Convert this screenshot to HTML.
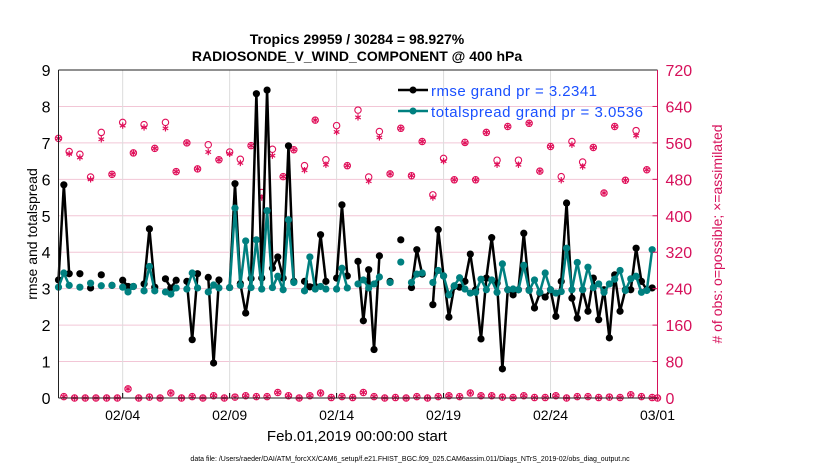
<!DOCTYPE html>
<html><head><meta charset="utf-8"><style>
body{margin:0;background:#fff;}
svg text{font-family:"Liberation Sans",sans-serif;}
</style></head><body>
<svg id="chart" width="830" height="470" xmlns="http://www.w3.org/2000/svg">
<g id="grid"></g>
<g id="marks"></g>
<g id="axes"></g>
<text x="357" y="44" text-anchor="middle" font-size="14" font-weight="bold">Tropics 29959 / 30284 = 98.927%</text>
<text x="357" y="61" text-anchor="middle" font-size="14" font-weight="bold">RADIOSONDE_V_WIND_COMPONENT @ 400 hPa</text>
<text transform="translate(37,234) rotate(-90)" text-anchor="middle" font-size="14">rmse and totalspread</text>
<text transform="translate(722,234) rotate(-90)" text-anchor="middle" font-size="14" fill="#d6105a"># of obs: o=possible; ×=assimilated</text>
<text x="357" y="441" text-anchor="middle" font-size="15">Feb.01,2019 00:00:00 start</text>
<text x="410" y="461" text-anchor="middle" font-size="7">data file: /Users/raeder/DAI/ATM_forcXX/CAM6_setup/f.e21.FHIST_BGC.f09_025.CAM6assim.011/Diags_NTrS_2019-02/obs_diag_output.nc</text>
<g>
<line x1="398" y1="90" x2="428" y2="90" stroke="#000" stroke-width="2.5"/><circle cx="413" cy="90" r="3.5" fill="#000"/>
<text x="431" y="96" font-size="15" fill="#1a50ff" textLength="166">rmse grand pr = 3.2341</text>
<line x1="398" y1="111" x2="428" y2="111" stroke="#008080" stroke-width="2.5"/><circle cx="413" cy="111" r="3.5" fill="#008080"/>
<text x="431" y="117" font-size="15" fill="#1a50ff" textLength="212">totalspread grand pr = 3.0536</text>
</g>
</svg>
<script>
const rmse=[3.24,5.85,3.41,null,3.41,null,3.02,null,3.38,null,3.09,null,3.23,3.06,3.06,null,3.13,4.64,3.04,null,3.27,3.02,3.23,null,3.2,1.6,3.41,null,3.31,0.96,3.24,null,3.03,5.88,3.14,2.33,3.28,8.35,3.29,8.45,3.56,3.87,3.29,6.92,3.2,null,3.2,3.05,3.06,4.48,3.2,null,3.29,5.3,3.35,null,3.75,2.12,3.52,1.33,3.9,null,3.2,null,4.34,null,3.03,4.07,3.4,null,2.56,4.62,3.35,2.22,3.06,3.04,3.2,3.95,2.97,1.62,3.29,4.4,3.15,0.8,2.97,2.83,2.97,4.52,2.97,2.47,2.88,2.77,2.97,2.24,3.2,5.35,2.74,2.19,2.97,2.38,3.29,2.15,2.97,1.65,3.38,2.38,2.97,2.97,4.11,3.2,2.97,3.02,null];
const spread=[3.04,3.43,3.09,null,3.04,null,3.15,null,3.08,null,3.09,null,3.04,2.91,3.06,null,2.94,3.61,2.94,null,2.91,2.85,3.02,null,2.99,3.43,3.02,null,2.91,3.1,3.02,null,3.03,5.21,3.09,4.31,3.03,4.34,2.99,5.14,3.03,3.34,2.97,4.89,3.17,null,2.94,3.87,2.99,3.06,2.99,null,2.99,3.56,3.02,null,3.13,3.24,3.02,3.13,3.32,null,3.17,null,3.73,null,3.17,3.4,3.43,null,3.17,3.5,3.35,2.83,3.08,3.3,2.99,2.88,2.9,3.26,2.97,3.24,2.9,3.68,2.97,2.99,2.97,3.64,2.95,3.24,2.9,3.43,2.97,2.88,2.92,4.11,2.97,3.72,2.97,3.59,3.03,3.13,2.9,3.13,3.26,3.5,2.95,3.27,3.34,2.9,2.95,4.07,null];
const possibleEven=[570,541,535,485,583,491,605,538,600,548,605,497,560,503,556,523,540,524,554,451,546,486,545,510,610,523,598,510,632,485,585,492,592,488,563,446,526,479,561,479,583,522,596,522,603,498,552,486,563,518,550,450,596,478,587,501,0];
const assimEven=[570,536,528,480,568,491,598,538,594,548,592,497,560,503,540,523,536,516,554,440,532,486,545,500,610,512,584,510,616,476,572,492,592,488,563,440,520,479,560,479,583,512,596,512,603,498,552,478,556,508,550,450,596,478,576,501,0];
const obsOdd=[3,0,0,0,0,0,20,0,2,0,11,0,3,0,5,0,2,5,3,3,12,5,0,5,11,1,3,1,12,3,0,1,0,3,0,3,5,3,11,5,5,2,1,5,1,1,5,0,3,3,1,2,1,7,3,1];
const yTicksL=[0,1,2,3,4,5,6,7,8,9];
const yTicksR=[0,80,160,240,320,400,480,560,640,720];
const xTickDays=[3,8,13,18,23,28];
const xTickLabels=["02/04","02/09","02/14","02/19","02/24","03/01"];

const X0=58.5,X1=657.5,Y0=398,Y1=70;
const xs=i=>X0+(i/4)*(X1-X0)/28;
const xd=d=>X0+d*(X1-X0)/28;
const yL=v=>Y0-v*(Y0-Y1)/9;
const yR=v=>Y0-v*(Y0-Y1)/720;
const NS="http://www.w3.org/2000/svg";
function mk(parent,tag,attrs){const e=document.createElementNS(NS,tag);for(const k in attrs)e.setAttribute(k,attrs[k]);parent.appendChild(e);return e;}
const grid=document.getElementById('grid'),marks=document.getElementById('marks'),axes=document.getElementById('axes');
yTicksR.forEach(v=>{if(v>0&&v<720){const l=mk(grid,'line',{x1:X0,x2:X1,y1:yR(v),y2:yR(v),stroke:'#f2c6d6','stroke-width':1});

}});
xTickDays.forEach((d,k)=>{const x=xd(d);
const l=mk(grid,'line',{x1:x,x2:x,y1:Y1,y2:Y0,stroke:'#dcdcdc','stroke-width':1});


const t=mk(axes,'text',{x:x,y:Y0+22,'text-anchor':'middle','font-size':14});t.textContent=xTickLabels[k];


mk(axes,'line',{x1:x,x2:x,y1:Y0,y2:Y0-5,stroke:'#000'});});
yTicksL.forEach(v=>{const t=mk(axes,'text',{x:X0-8,y:yL(v)+6,'text-anchor':'end','font-size':16});t.textContent=v;

});
yTicksR.forEach(v=>{const t=mk(axes,'text',{x:X1+8,y:yR(v)+6,'font-size':16,fill:'#d6105a'});t.textContent=v;


mk(axes,'line',{x1:X1,x2:X1-5,y1:yR(v),y2:yR(v),stroke:'#d6105a'});});
mk(axes,'line',{x1:X0,x2:X1,y1:Y1,y2:Y1,stroke:'#222'});
mk(axes,'line',{x1:X0,x2:X1,y1:Y0,y2:Y0,stroke:'#222'});
mk(axes,'line',{x1:X0,x2:X0,y1:Y1,y2:Y0,stroke:'#222'});
mk(axes,'line',{x1:X1,x2:X1,y1:Y1,y2:Y0,stroke:'#d6105a'});
const C='#e0105a';
function obsMark(x,y,asterisk){
 if(asterisk){const g=mk(marks,'g',{stroke:C,'stroke-width':1.2});
  
  
  for(let a=0;a<3;a++){const an=a*Math.PI/3+Math.PI/2;mk(g,'line',{x1:x-3.2*Math.cos(an),y1:y-3.2*Math.sin(an),x2:x+3.2*Math.cos(an),y2:y+3.2*Math.sin(an)});}}
 else{const c=mk(marks,'circle',{cx:x,cy:y,r:3.2,fill:'none',stroke:C,'stroke-width':1.1});
  
  }
}
possibleEven.forEach((v,k)=>obsMark(xs(2*k),yR(v),false));
assimEven.forEach((v,k)=>obsMark(xs(2*k),yR(v),true));
obsOdd.forEach((v,k)=>{obsMark(xs(2*k+1),yR(v),false);obsMark(xs(2*k+1),yR(v),true);});
function series(arr,color,name){
 for(let i=0;i<arr.length-1;i++){if(arr[i]!=null&&arr[i+1]!=null){const l=mk(marks,'line',{x1:xs(i),y1:yL(arr[i]),x2:xs(i+1),y2:yL(arr[i+1]),stroke:color,'stroke-width':2.5});
  
  }}
 arr.forEach((v,i)=>{if(v==null)return;const c=mk(marks,'circle',{cx:xs(i),cy:yL(v),r:3.6,fill:color});
  
  });
}
series(rmse,'#000','rmse');
series(spread,'#008080','totalspread');
</script>
</body></html>
